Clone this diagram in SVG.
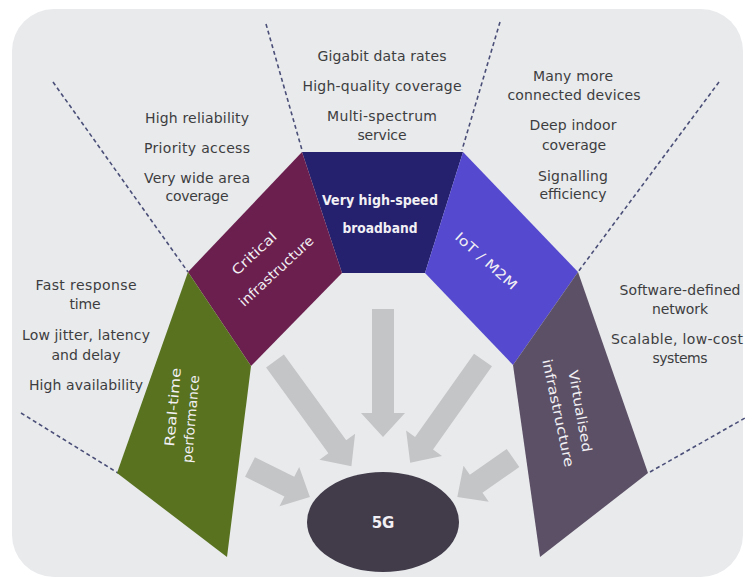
<svg xmlns="http://www.w3.org/2000/svg" width="746" height="580" viewBox="0 0 746 580">
<defs>
<style>
.t{font-family:"DejaVu Sans","Liberation Sans",sans-serif;font-size:14px;fill:#3d3d3f;text-anchor:middle}
.w{font-family:"DejaVu Sans","Liberation Sans",sans-serif;font-size:13.5px;fill:#f2f0f4;text-anchor:middle}
.b{font-weight:bold}
.dash{stroke:#4b4f78;stroke-width:1.6;stroke-dasharray:4 3;fill:none}
.arr{fill:#c4c5c7}
</style>
</defs>
<rect x="0" y="0" width="746" height="580" fill="#ffffff"/>
<rect x="12" y="9" width="731" height="568" rx="42" ry="42" fill="#e8eaec"/>

<g id="dividers">
<line class="dash" x1="53" y1="82" x2="188" y2="272"/>
<line class="dash" x1="266" y1="24" x2="302" y2="150"/>
<line class="dash" x1="500" y1="22" x2="462" y2="150"/>
<line class="dash" x1="719" y1="82" x2="578" y2="272"/>
<line class="dash" x1="21" y1="413" x2="118" y2="473"/>
<line class="dash" x1="650" y1="472" x2="745" y2="418"/>
</g>

<g id="node-broadband">
<polygon points="302,152 463,152 425,273 342,273" fill="#25216e"/>
<text class="w b" x="380" y="205" textLength="116" lengthAdjust="spacingAndGlyphs">Very high-speed</text>
<text class="w b" x="380" y="233" textLength="75" lengthAdjust="spacingAndGlyphs">broadband</text>
</g>

<g id="node-critical">
<polygon points="302,152 342,273 251,366 188,272" fill="#6b1f4e"/>
<g transform="translate(265,262) rotate(-43)">
<text class="w" x="-2" y="-9" textLength="56" lengthAdjust="spacingAndGlyphs">Critical</text>
<text class="w" x="2" y="19" textLength="96" lengthAdjust="spacingAndGlyphs">infrastructure</text>
</g>
</g>

<g id="node-realtime">
<polygon points="188,272 251,366 227,557 117,473" fill="#58721f"/>
<text class="w" transform="translate(173,407) rotate(-85)" x="0" y="4.5" textLength="79" lengthAdjust="spacingAndGlyphs">Real-time</text>
<text class="w" transform="translate(191,419) rotate(-85)" x="0" y="4.5" textLength="88" lengthAdjust="spacingAndGlyphs">performance</text>
</g>

<g id="node-iot">
<polygon points="463,152 578,272 513,365 425,273" fill="#5449cf"/>
<text class="w" transform="translate(486,261) rotate(42)" x="0" y="4.5" textLength="78" lengthAdjust="spacingAndGlyphs">IoT / M2M</text>
</g>

<g id="node-virtual">
<polygon points="578,272 648,473 540,557 513,365" fill="#5c5066"/>
<text class="w" transform="translate(580,411) rotate(80)" x="0" y="4.5" textLength="83" lengthAdjust="spacingAndGlyphs">Virtualised</text>
<text class="w" transform="translate(558,413) rotate(78)" x="0" y="4.5" textLength="110" lengthAdjust="spacingAndGlyphs">infrastructure</text>
</g>

<g id="connectors">
<path class="arr" transform="translate(383,309) rotate(90)" d="M0,-11 L104,-11 L104,-22 L128,0 L104,22 L104,11 L0,11 Z"/>
<path class="arr" transform="translate(275,361) rotate(54)" d="M0,-11 L106,-11 L106,-22 L130,0 L106,22 L106,11 L0,11 Z"/>
<path class="arr" transform="translate(483,360) rotate(125.3)" d="M0,-11 L102,-11 L102,-22 L126,0 L102,22 L102,11 L0,11 Z"/>
<path class="arr" transform="translate(250,467) rotate(26.6)" d="M0,-11 L44,-11 L44,-22 L67,0 L44,22 L44,11 L0,11 Z"/>
<path class="arr" transform="translate(513,458) rotate(145)" d="M0,-11 L45,-11 L45,-22 L68,0 L45,22 L45,11 L0,11 Z"/>
</g>

<g id="node-5g">
<ellipse cx="383" cy="522" rx="76" ry="50" fill="#413b4a"/>
<text class="w b" x="383" y="528" style="font-size:15px">5G</text>
</g>

<g id="text-critical">
<text class="t" x="197" y="123" textLength="104">High reliability</text>
<text class="t" x="197" y="153" textLength="106">Priority access</text>
<text class="t" x="197" y="183" textLength="106">Very wide area</text>
<text class="t" x="197" y="201" textLength="63">coverage</text>
</g>

<g id="text-broadband">
<text class="t" x="382" y="61" textLength="129">Gigabit data rates</text>
<text class="t" x="382" y="91" textLength="159">High-quality coverage</text>
<text class="t" x="382" y="121" textLength="110">Multi-spectrum</text>
<text class="t" x="382" y="140" textLength="49">service</text>
</g>

<g id="text-iot">
<text class="t" x="573" y="81" textLength="80">Many more</text>
<text class="t" x="574" y="100" textLength="133">connected devices</text>
<text class="t" x="573" y="130" textLength="87">Deep indoor</text>
<text class="t" x="574" y="150" textLength="64">coverage</text>
<text class="t" x="573" y="181" textLength="70">Signalling</text>
<text class="t" x="573" y="199" textLength="67">efficiency</text>
</g>

<g id="text-virtual">
<text class="t" x="680" y="295" textLength="121">Software-defined</text>
<text class="t" x="680" y="314" textLength="56">network</text>
<text class="t" x="677" y="344" textLength="132">Scalable, low-cost</text>
<text class="t" x="680" y="363" textLength="55">systems</text>
</g>

<g id="text-realtime">
<text class="t" x="86" y="290" textLength="101">Fast response</text>
<text class="t" x="85" y="309" textLength="31">time</text>
<text class="t" x="86" y="340" textLength="128">Low jitter, latency</text>
<text class="t" x="86" y="360" textLength="69">and delay</text>
<text class="t" x="86" y="390" textLength="114">High availability</text>
</g>
</svg>
